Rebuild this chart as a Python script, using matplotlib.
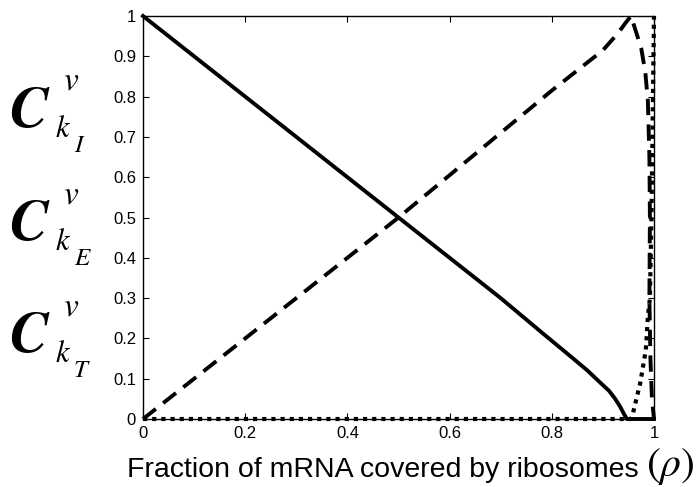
import matplotlib
matplotlib.use("Agg")
import matplotlib.pyplot as plt

# Control coefficients versus ribosome coverage.
rho_init = [0.0, 0.1, 0.2, 0.3, 0.4, 0.5, 0.6, 0.7, 0.78, 0.84, 0.87, 0.895, 0.912,
            0.924, 0.934, 0.941, 0.947, 1.0]
c_init = [1.0, 0.9, 0.8, 0.7, 0.6, 0.5, 0.4, 0.3, 0.215, 0.152, 0.12, 0.09, 0.07,
          0.05, 0.03, 0.013, 0.0, 0.0]

rho_elong = [0.0, 0.1, 0.2, 0.3, 0.4, 0.5, 0.6, 0.7, 0.8, 0.85, 0.9, 0.93, 0.945, 0.955,
             0.965, 0.975, 0.983, 0.988, 0.991, 0.992, 0.991, 0.993, 0.996, 1.0]
c_elong = [0.0, 0.1, 0.2, 0.3, 0.4, 0.5, 0.605, 0.71, 0.815, 0.865, 0.915, 0.958, 0.984, 1.0,
           0.96, 0.92, 0.86, 0.79, 0.65, 0.5, 0.3, 0.15, 0.05, 0.0]

rho_term = [0.0, 0.955, 0.959, 0.973, 0.984, 0.988, 0.992, 0.995, 0.998, 1.0]
c_term = [0.0, 0.0, 0.015, 0.089, 0.171, 0.253, 0.3, 0.5, 0.8, 1.0]

x_ticks = [0, 0.2, 0.4, 0.6, 0.8, 1]
y_ticks = [0, 0.1, 0.2, 0.3, 0.4, 0.5, 0.6, 0.7, 0.8, 0.9, 1]
x_tick_labels = ['0', '0.2', '0.4', '0.6', '0.8', '1']
y_tick_labels = ['0', '0.1', '0.2', '0.3', '0.4', '0.5', '0.6', '0.7', '0.8', '0.9', '1']
subscripts = ['I', 'E', 'T']

plt.rcParams['font.family'] = ['Liberation Sans', 'DejaVu Sans']
plt.rcParams['mathtext.fontset'] = 'stix'

fig = plt.figure(figsize=(6.97, 4.87), dpi=100)
ax = fig.add_axes([143 / 697, 1 - 419 / 487, 511 / 697, 403 / 487])

ax.plot(rho_init, c_init, color='black', lw=2.8, clip_on=False, zorder=3)
ax.plot(rho_elong, c_elong, color='black', lw=2.8, linestyle=(0, (4.2, 2.4)),
        clip_on=False, zorder=3)
ax.plot(rho_term, c_term, color='black', lw=3.0, linestyle=(0, (1, 1.2)),
        clip_on=False, zorder=3)

ax.set_xlim(0, 1)
ax.set_ylim(0, 1)
ax.set_xticks(x_ticks)
ax.set_yticks(y_ticks)
ax.set_xticklabels(x_tick_labels)
ax.set_yticklabels(y_tick_labels)
ax.tick_params(direction='in', top=True, right=True, length=4, width=0.8,
               labelsize=12, pad=5)
for s in ax.spines.values():
    s.set_linewidth(1.0)

# y-axis "label": three coefficient symbols C^v_k stacked down the left margin
px = lambda x, y: (x / 697, 1 - y / 487)
for sub, base in zip(subscripts, [127, 240, 352]):
    fig.text(*px(9, base), 'C', family='STIXGeneral', style='italic', weight='bold',
             fontsize=42, ha='left', va='baseline')
    fig.text(*px(63, base - 37), 'v', family='STIXGeneral', style='italic',
             fontsize=24, ha='left', va='baseline')
    fig.text(*px(56, base + 10), 'k', family='STIXGeneral', style='italic',
             fontsize=22, ha='left', va='baseline')
    fig.text(*px(74, base + 25), sub, family='STIXGeneral', style='italic',
             fontsize=18, ha='left', va='baseline')

# x-axis label with a large (rho)
fig.text(*px(127, 477), 'Fraction of mRNA covered by ribosomes',
         fontsize=20.5, ha='left', va='baseline')
fig.text(*px(646, 476), r'$\left(\rho\right)$', fontsize=30,
         ha='left', va='baseline')

fig.savefig('out.png', dpi=100)
